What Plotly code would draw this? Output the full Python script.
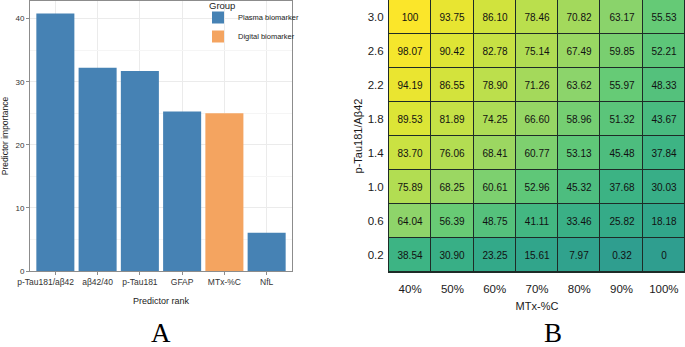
import plotly.graph_objects as go

# ---- Panel A data ----
predictors = ["p-Tau181/aβ42", "aβ42/40", "p-Tau181", "GFAP", "MTx-%C", "NfL"]
importance = [40.8, 32.2, 31.7, 25.3, 25.0, 6.05]
groups = ["Plasma biomarker", "Plasma biomarker", "Plasma biomarker",
          "Plasma biomarker", "Digital biomarker", "Plasma biomarker"]
group_order = ["Plasma biomarker", "Digital biomarker"]
group_colors = {"Plasma biomarker": "#4682B4", "Digital biomarker": "#F4A460"}

# ---- Panel B data ----
mtx_labels = ["40%", "50%", "60%", "70%", "80%", "90%", "100%"]
ratio_labels = ["0.2", "0.6", "1.0", "1.4", "1.8", "2.2", "2.6", "3.0"]
z_rows = {
    "3.0": [100, 93.75, 86.10, 78.46, 70.82, 63.17, 55.53],
    "2.6": [98.07, 90.42, 82.78, 75.14, 67.49, 59.85, 52.21],
    "2.2": [94.19, 86.55, 78.90, 71.26, 63.62, 55.97, 48.33],
    "1.8": [89.53, 81.89, 74.25, 66.60, 58.96, 51.32, 43.67],
    "1.4": [83.70, 76.06, 68.41, 60.77, 53.13, 45.48, 37.84],
    "1.0": [75.89, 68.25, 60.61, 52.96, 45.32, 37.68, 30.03],
    "0.6": [64.04, 56.39, 48.75, 41.11, 33.46, 25.82, 18.18],
    "0.2": [38.54, 30.90, 23.25, 15.61, 7.97, 0.32, 0],
}
z = [z_rows[r] for r in ratio_labels]


def fmt(v):
    return str(int(v)) if v in (0, 100) else f"{v:.2f}"


text = [[fmt(v) for v in row] for row in z]

W, H = 685, 347
SANS = "Liberation Sans, Arial, sans-serif"
SERIF = "Liberation Serif, Times New Roman, serif"

# category positions; the first label sits a little left of its bar in the reference
cat_pos = list(range(len(predictors)))
label_pos = [cat_pos[0] - 0.23] + cat_pos[1:]

fig = go.Figure()

for g in group_order:
    xs = [p for p, gg in zip(predictors, groups) if gg == g]
    ys = [v for v, gg in zip(importance, groups) if gg == g]
    fig.add_trace(go.Bar(x=xs, y=ys, name=g, marker=dict(color=group_colors[g], line=dict(width=0)),
                         width=0.9, xaxis="x", yaxis="y"))

colorscale = [
    [0.0, "#2f9e8f"], [0.2, "#31a78a"], [0.385, "#3db484"], [0.56, "#66cb76"],
    [0.64, "#8ed46a"], [0.8, "#bfe04a"], [0.9, "#dde535"], [1.0, "#fbe62a"],
]

fig.add_trace(go.Heatmap(
    x=mtx_labels, y=ratio_labels, z=z, text=text, texttemplate="%{text}",
    textfont=dict(family=SANS, size=10, color="#111111"),
    colorscale=colorscale, zmin=0, zmax=100, showscale=False,
    xgap=1, ygap=1, xaxis="x2", yaxis="y2", hoverinfo="skip", showlegend=False,
))

ax_dom_A = [30 / W, 292 / W]
ay_dom_A = [(H - 271) / H, (H - 1) / H]
ax_dom_B = [389 / W, 1.0]
ay_dom_B = [(H - 272) / H, 1.0]

fig.update_layout(
    width=W, height=H, margin=dict(l=0, r=0, t=0, b=0, autoexpand=False),
    paper_bgcolor="white", plot_bgcolor="white",
    barmode="overlay",
    font=dict(family=SANS, color="#000000"),
    xaxis=dict(domain=ax_dom_A, anchor="y", type="category", categoryorder="array",
               categoryarray=predictors, range=[-0.6, 5.6], tickangle=0, automargin=False,
               tickmode="array", tickvals=label_pos, ticktext=predictors,
               showgrid=False, ticks="",
               minor=dict(tickmode="array", tickvals=cat_pos, showgrid=True, gridcolor="#ebebeb",
                          ticks="outside", ticklen=3, tickcolor="#8c8c8c"),
               showline=True, mirror=True, linecolor="#8c8c8c", linewidth=1,
               ticklabelstandoff=3,
               tickfont=dict(size=8.5, color="#333333"),
               title=dict(text="Predictor rank", font=dict(size=9, color="#222222"), standoff=11)),
    yaxis=dict(domain=ay_dom_A, anchor="x", range=[0, 42.8], dtick=10, tick0=0, automargin=False,
               showgrid=True, gridcolor="#ebebeb", gridwidth=1, zeroline=False,
               minor=dict(dtick=5, showgrid=True, gridcolor="#f5f5f5"),
               showline=True, mirror=True, linecolor="#8c8c8c", linewidth=1,
               ticks="outside", ticklen=3, tickcolor="#8c8c8c",
               tickfont=dict(size=8, color="#333333"),
               title=dict(text="Predictor importance", font=dict(size=8.5, color="#222222"), standoff=6)),
    xaxis2=dict(domain=ax_dom_B, anchor="y2", type="category", range=[-0.5, 6.5], automargin=False,
                showgrid=False, zeroline=False, ticks="", ticklabelstandoff=6,
                showline=True, mirror=True, linecolor="#1e2b27", linewidth=1,
                tickfont=dict(size=11.5, color="#1a1a1a"),
                title=dict(text="MTx-%C", font=dict(size=11, color="#1a1a1a"), standoff=8)),
    yaxis2=dict(domain=ay_dom_B, anchor="x2", type="category", range=[-0.5, 7.5], automargin=False,
                showgrid=False, zeroline=False, ticks="", ticklabelstandoff=2,
                showline=True, mirror=True, linecolor="#1e2b27", linewidth=1,
                tickfont=dict(size=11.5, color="#1a1a1a"),
                title=dict(text="p-Tau181/Aβ42", font=dict(size=11, color="#1a1a1a"), standoff=2)),
    legend=dict(x=198 / W, y=(H - 3) / H, xanchor="left", yanchor="top",
                font=dict(size=7.5, color="#222222"), bgcolor="rgba(0,0,0,0)",
                itemwidth=30, tracegroupgap=0),
    shapes=[dict(type="rect", xref="x2 domain", yref="y2 domain", x0=0, x1=1, y0=0, y1=1,
                 fillcolor="#1e2b27", line=dict(width=0), layer="below")],
    annotations=[
        dict(text="Group", x=207 / W, y=(H - 6) / H, xref="paper", yref="paper",
             xanchor="left", yanchor="middle", showarrow=False,
             font=dict(family=SANS, size=9.5, color="#222222")),
        dict(text="A", x=161 / W, y=(H - 333) / H, xref="paper", yref="paper",
             xanchor="center", yanchor="middle",
             showarrow=False, font=dict(family=SERIF, size=27, color="#000000")),
        dict(text="B", x=553 / W, y=(H - 333) / H, xref="paper", yref="paper",
             xanchor="center", yanchor="middle",
             showarrow=False, font=dict(family=SERIF, size=27, color="#000000")),
    ],
)

fig.write_html("out.html", config={"displayModeBar": False},
               post_script="document.body.style.margin='0px';")
